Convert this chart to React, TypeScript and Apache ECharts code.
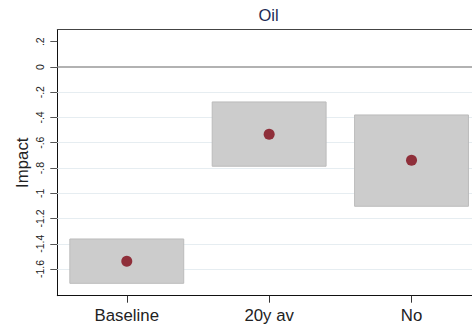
import React, { useEffect, useRef } from "react";
import * as echarts from "echarts";

const categories = ["Baseline", "20y av", "No"];
const pointValues = [-1.539, -0.533, -0.739];
const lowerValues = [-1.713, -0.786, -1.103];
const upperValues = [-1.362, -0.277, -0.38];
const yTickValues = [0.2, 0, -0.2, -0.4, -0.6, -0.8, -1, -1.2, -1.4, -1.6];
const yTickLabels = [".2", "0", "-.2", "-.4", "-.6", "-.8", "-1", "-1.2", "-1.4", "-1.6"];
const gridValues = [-0.2, -0.4, -0.6, -0.8, -1, -1.2, -1.4, -1.6];
const zeroLine = [0];
const xPositions = [1, 2, 3];

const FONT = "'Liberation Sans', Arial, Helvetica, sans-serif";
const HALF_W = 0.4;

export default function App() {
  const ref = useRef<HTMLDivElement>(null);
  useEffect(() => {
    if (!ref.current) return;
    const chart = echarts.init(ref.current, null, { renderer: "svg" });
    const option: any = {
      animation: false,
      backgroundColor: "#ffffff",
      textStyle: { fontFamily: FONT },
      title: {
        text: "Oil",
        left: 258.5,
        top: 6,
        padding: 0,
        textStyle: { fontFamily: FONT, fontSize: 16.5, fontWeight: "normal", color: "#1e2b55" },
      },
      grid: { left: 57.3, right: 0, top: 29.7, bottom: 34.3, containLabel: false },
      xAxis: [
        {
          type: "value",
          min: 0.512,
          max: 3.488,
          splitLine: { show: false },
          axisLine: { show: true, onZero: false, lineStyle: { color: "#111", width: 1 } },
          axisTick: { show: true, customValues: xPositions, length: 7, lineStyle: { color: "#333" } },
          axisLabel: {
            customValues: xPositions,
            formatter: (v: number) => categories[Math.round(v) - 1] ?? "",
            fontFamily: FONT,
            fontSize: 16.8,
            color: "#222",
            margin: 11,
          },
        },
        {
          type: "value",
          position: "top",
          min: 0.512,
          max: 3.488,
          splitLine: { show: false },
          axisLine: { show: true, onZero: false, lineStyle: { color: "#444", width: 1 } },
          axisTick: { show: false },
          axisLabel: { show: false },
        },
      ],
      yAxis: {
        type: "value",
        min: -1.811,
        max: 0.295,
        name: "Impact",
        nameLocation: "middle",
        nameGap: 26,
        nameMoveOverlap: false,
        nameTextStyle: { fontFamily: FONT, fontSize: 16.8, color: "#222" },
        splitLine: { show: false },
        axisLine: { show: true, onZero: false, lineStyle: { color: "#111", width: 1 } },
        axisTick: { show: true, customValues: yTickValues, length: 7, lineStyle: { color: "#555" } },
        axisLabel: {
          customValues: yTickValues,
          rotate: 90,
          formatter: (v: number) => {
            const i = yTickValues.findIndex((t) => Math.abs(t - v) < 1e-6);
            return i >= 0 ? yTickLabels[i] : "";
          },
          fontFamily: FONT,
          fontSize: 10.5,
          color: "#222",
          margin: 12,
        },
      },
      series: [
        {
          type: "line",
          data: [],
          z: 1,
          markLine: {
            silent: true,
            z: 1,
            symbol: "none",
            label: { show: false },
            animation: false,
            data: [
              ...gridValues.map((v) => ({ yAxis: v, lineStyle: { color: "#e6edf1", width: 1.2, type: "solid" } })),
              ...zeroLine.map((v) => ({ yAxis: v, lineStyle: { color: "#999999", width: 1.5, type: "solid" } })),
            ],
          },
        },
        {
          type: "custom",
          z: 3,
          data: categories.map((c, i) => [xPositions[i], lowerValues[i], upperValues[i]]),
          renderItem: (params: any, api: any) => {
            const x = api.value(0);
            const lo = api.value(1);
            const hi = api.value(2);
            const p1 = api.coord([x - HALF_W, hi]);
            const p2 = api.coord([x + HALF_W, lo]);
            return {
              type: "rect",
              shape: { x: p1[0], y: p1[1], width: p2[0] - p1[0], height: p2[1] - p1[1] },
              style: { fill: "#cccccc", stroke: "#bcbcbc", lineWidth: 1 },
            };
          },
        },
        {
          type: "scatter",
          z: 4,
          symbol: "circle",
          symbolSize: 11,
          itemStyle: { color: "#8f2f3a", opacity: 1 },
          data: categories.map((c, i) => [xPositions[i], pointValues[i]]),
        },
      ],
    };
    chart.setOption(option);
    return () => chart.dispose();
  }, []);
  return (
    <div style={{ position: "fixed", left: 0, top: 0, width: 472, height: 330, overflow: "hidden", background: "#fff" }}>
      <div ref={ref} style={{ width: 481, height: 330 }} />
    </div>
  );
}
